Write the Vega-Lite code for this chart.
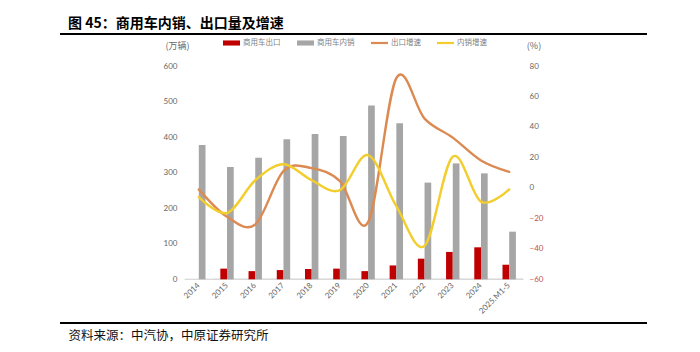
{
  "$schema": "https://vega.github.io/schema/vega-lite/v6.json",
  "autosize": "none",
  "width": 587,
  "height": 289,
  "padding": {"left": 60, "top": 34, "right": 53, "bottom": 29},
  "background": "white",
  "title": {
    "text": "图 45：商用车内销、出口量及增速",
    "anchor": "start",
    "frame": "group",
    "dx": 8,
    "dy": 15,
    "offset": 7,
    "baseline": "alphabetic",
    "font": "Noto Sans CJK SC",
    "fontSize": 14,
    "fontWeight": "bold",
    "color": "#000000"
  },
  "config": {
    "view": {"stroke": "#000000", "strokeWidth": 2, "strokeDash": [587, 289]},
    "axis": {"labelFont": "Lato", "labelFontSize": 8, "labelColor": "#666666", "titleFont": "Noto Sans CJK SC", "titleFontWeight": "normal", "titleColor": "#666666", "titleFontSize": 9}
  },
  "datasets": {
    "bars": [
      {"cat": "2014", "series": "商用车内销", "value": 378},
      {"cat": "2015", "series": "商用车出口", "value": 30},
      {"cat": "2015", "series": "商用车内销", "value": 316},
      {"cat": "2016", "series": "商用车出口", "value": 23},
      {"cat": "2016", "series": "商用车内销", "value": 342},
      {"cat": "2017", "series": "商用车出口", "value": 26},
      {"cat": "2017", "series": "商用车内销", "value": 394},
      {"cat": "2018", "series": "商用车出口", "value": 29},
      {"cat": "2018", "series": "商用车内销", "value": 409},
      {"cat": "2019", "series": "商用车出口", "value": 30},
      {"cat": "2019", "series": "商用车内销", "value": 403},
      {"cat": "2020", "series": "商用车出口", "value": 23},
      {"cat": "2020", "series": "商用车内销", "value": 489},
      {"cat": "2021", "series": "商用车出口", "value": 39},
      {"cat": "2021", "series": "商用车内销", "value": 439},
      {"cat": "2022", "series": "商用车出口", "value": 58},
      {"cat": "2022", "series": "商用车内销", "value": 272},
      {"cat": "2023", "series": "商用车出口", "value": 77},
      {"cat": "2023", "series": "商用车内销", "value": 326},
      {"cat": "2024", "series": "商用车出口", "value": 90},
      {"cat": "2024", "series": "商用车内销", "value": 298},
      {"cat": "2025.M1-5", "series": "商用车出口", "value": 41},
      {"cat": "2025.M1-5", "series": "商用车内销", "value": 134}
    ],
    "lines": [
      {"cat": "2014", "series": "出口增速", "g": -1},
      {"cat": "2015", "series": "出口增速", "g": -19},
      {"cat": "2016", "series": "出口增速", "g": -24},
      {"cat": "2017", "series": "出口增速", "g": 11},
      {"cat": "2018", "series": "出口增速", "g": 13},
      {"cat": "2019", "series": "出口增速", "g": 4.5},
      {"cat": "2020", "series": "出口增速", "g": -22.5},
      {"cat": "2021", "series": "出口增速", "g": 72},
      {"cat": "2022", "series": "出口增速", "g": 45.5},
      {"cat": "2023", "series": "出口增速", "g": 33},
      {"cat": "2024", "series": "出口增速", "g": 18},
      {"cat": "2025.M1-5", "series": "出口增速", "g": 10.5},
      {"cat": "2014", "series": "内销增速", "g": -6},
      {"cat": "2015", "series": "内销增速", "g": -16.5},
      {"cat": "2016", "series": "内销增速", "g": 5},
      {"cat": "2017", "series": "内销增速", "g": 15.5},
      {"cat": "2018", "series": "内销增速", "g": 5},
      {"cat": "2019", "series": "内销增速", "g": -1.5},
      {"cat": "2020", "series": "内销增速", "g": 21.5},
      {"cat": "2021", "series": "内销增速", "g": -12},
      {"cat": "2022", "series": "内销增速", "g": -38},
      {"cat": "2023", "series": "内销增速", "g": 20.5},
      {"cat": "2024", "series": "内销增速", "g": -9},
      {"cat": "2025.M1-5", "series": "内销增速", "g": -1}
    ]
  },
  "layer": [
    {
      "data": {"name": "bars"},
      "layer": [
        {
          "mark": {"type": "bar", "fill": null, "stroke": "#d9d9d9", "strokeWidth": 1, "width": {"band": 2.1}},
          "encoding": {
            "x": {"field": "cat", "type": "nominal"},
            "y": {"datum": 0, "type": "quantitative"}
          }
        },
        {
          "mark": {"type": "bar"},
          "encoding": {
            "x": {
              "field": "cat",
              "type": "nominal",
              "sort": null,
              "scale": {
                "domain": ["2014", "2015", "2016", "2017", "2018", "2019", "2020", "2021", "2022", "2023", "2024", "2025.M1-5"],
                "range": [124.7, 463.3],
                "paddingInner": 0.525,
                "paddingOuter": 0.2625,
                "round": false
              },
              "axis": {
                "orient": "bottom",
                "offset": -44,
                "domain": false,
                "ticks": false,
                "labelAngle": -45,
                "labelAlign": "right",
                "labelBaseline": "middle",
                "labelPadding": 5,
                "title": "资料来源：中汽协，中原证券研究所",
                "titleX": 8,
                "titleY": 56,
                "titleAlign": "left",
                "titleAnchor": null,
                "titleBaseline": "middle",
                "titleFontSize": 12.5,
                "titleColor": "#111111"
              }
            },
            "xOffset": {
              "field": "series",
              "type": "nominal",
              "scale": {"domain": ["商用车出口", "商用车内销"], "paddingInner": 0, "paddingOuter": 0}
            },
            "y": {
              "field": "value",
              "type": "quantitative",
              "scale": {"domain": [0, 600], "range": [245.3, 32], "nice": false, "zero": false},
              "axis": {
                "orient": "left",
                "offset": -125,
                "values": [0, 100, 200, 300, 400, 500, 600],
                "domain": false,
                "ticks": false,
                "grid": false,
                "labelPadding": 8,
                "title": "(万辆)",
                "titleAngle": 0,
                "titleX": -8,
                "titleY": 11,
                "titleAlign": "center",
                "titleBaseline": "middle"
              }
            },
            "color": {
              "field": "series",
              "type": "nominal",
              "scale": {
                "domain": ["商用车出口", "商用车内销", "出口增速", "内销增速"],
                "range": ["#C00000", "#A6A6A6", "#DB8A52", "#F2CD2C"]
              },
              "legend": {
                "orient": "none",
                "legendX": 163,
                "legendY": 0.5,
                "direction": "horizontal",
                "title": null,
                "padding": 0,
                "labelFont": "Noto Sans CJK SC",
                "labelFontSize": 7.5,
                "labelColor": "#808080",
                "labelOffset": 3,
                "columnPadding": 16,
                "symbolSize": 289,
                "encode": {
                  "symbols": {
                    "update": {
                      "shape": {"signal": "(datum.value === '出口增速' || datum.value === '内销增速') ? 'M-1,-0.13H1V0.13H-1Z' : 'M-1,-0.3H1V0.3H-1Z'"},
                      "fill": {"scale": "color", "field": "value"},
                      "stroke": {"value": "transparent"},
                      "strokeWidth": {"value": 0},
                      "opacity": {"value": 1}
                    }
                  }
                }
              }
            }
          }
        }
      ]
    },
    {
      "data": {"name": "lines"},
      "mark": {"type": "line", "interpolate": "cardinal", "strokeWidth": 2.4, "strokeCap": "round"},
      "encoding": {
        "x": {"field": "cat", "type": "nominal", "sort": null},
        "y": {
          "field": "g",
          "type": "quantitative",
          "scale": {"domain": [-60, 80], "range": [245.3, 32], "nice": false, "zero": false},
          "axis": {
            "orient": "right",
            "offset": -123,
            "values": [-60, -40, -20, 0, 20, 40, 60, 80],
            "domain": false,
            "ticks": false,
            "grid": false,
            "labelPadding": 5,
            "labelColor": {"condition": {"test": "datum.value < 0", "value": "#C0504D"}, "value": "#666666"},
            "title": "(%)",
            "titleAngle": 0,
            "titleX": 9.5,
            "titleY": 11,
            "titleAlign": "center",
            "titleBaseline": "middle"
          }
        },
        "color": {"field": "series", "type": "nominal"}
      }
    }
  ],
  "resolve": {"scale": {"y": "independent"}}
}
